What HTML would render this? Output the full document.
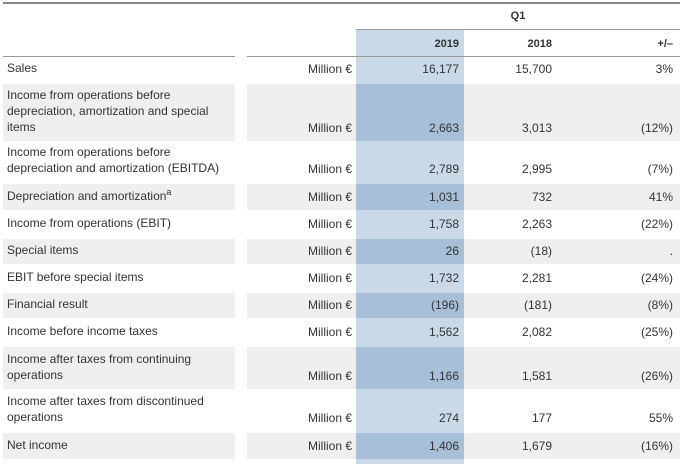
<!DOCTYPE html>
<html><head><meta charset="utf-8"><style>
body{margin:0;width:683px;height:464px;background:#fff;font-family:"Liberation Sans",sans-serif;font-size:12px;color:#333;position:relative;overflow:hidden}
div{position:absolute;box-sizing:border-box}
.l{left:3px;width:232px;padding:0 4px 6px;display:flex;align-items:flex-end;line-height:16px}
.u{left:247px;width:109px;text-align:right;padding:0 4px 6px 0;display:flex;align-items:flex-end;justify-content:flex-end}
.a{left:356px;width:108px;padding:0 5px 6px 0;display:flex;align-items:flex-end;justify-content:flex-end}
.b{left:464px;width:108px;padding:0 20px 6px 0;display:flex;align-items:flex-end;justify-content:flex-end}
.c{left:572px;width:108px;padding:0 7px 6px 0;display:flex;align-items:flex-end;justify-content:flex-end}
.g{background:#efefef}
.g.a{background:#a7bfd8}
.a{background:#c9d9e8}
.h{font-weight:bold;font-size:11px}
</style></head><body>
<div style="left:3px;top:2px;width:677px;height:2px;background:#888"></div>
<div style="left:356px;top:29px;width:324px;height:1px;background:#999"></div>
<div style="left:3px;top:56px;width:232px;height:1px;background:#999"></div>
<div style="left:247px;top:56px;width:433px;height:1px;background:#999"></div>
<div class="h" style="left:356px;width:324px;top:10px;text-align:center">Q1</div>
<div class="a h" style="top:30px;height:26px;padding-bottom:6px">2019</div>
<div class="b h" style="top:30px;height:26px;padding-bottom:6px">2018</div>
<div class="c h" style="top:30px;height:26px;padding-bottom:6px">+/–</div>
<div class="a" style="top:57px;height:407px;padding:0"></div>

<div class="l" style="top:57px;height:25px">Sales</div><div class="u" style="top:57px;height:25px">Million €</div><div class="a" style="top:57px;height:25px">16,177</div><div class="b" style="top:57px;height:25px">15,700</div><div class="c" style="top:57px;height:25px">3%</div>

<div class="l g" style="top:84px;height:57px">Income from operations before depreciation, amortization and special items</div><div class="u g" style="top:84px;height:57px">Million €</div><div class="a g" style="top:84px;height:57px">2,663</div><div class="b g" style="top:84px;height:57px">3,013</div><div class="c g" style="top:84px;height:57px">(12%)</div>

<div class="l" style="top:143px;height:39px">Income from operations before depreciation and amortization (EBITDA)</div><div class="u" style="top:143px;height:39px">Million €</div><div class="a" style="top:143px;height:39px">2,789</div><div class="b" style="top:143px;height:39px">2,995</div><div class="c" style="top:143px;height:39px">(7%)</div>

<div class="l g" style="top:184px;height:26px"><span>Depreciation and amortization<span style="font-size:9px;vertical-align:5px">a</span></span></div><div class="u g" style="top:184px;height:26px">Million €</div><div class="a g" style="top:184px;height:26px">1,031</div><div class="b g" style="top:184px;height:26px">732</div><div class="c g" style="top:184px;height:26px">41%</div>

<div class="l" style="top:212px;height:25px">Income from operations (EBIT)</div><div class="u" style="top:212px;height:25px">Million €</div><div class="a" style="top:212px;height:25px">1,758</div><div class="b" style="top:212px;height:25px">2,263</div><div class="c" style="top:212px;height:25px">(22%)</div>

<div class="l g" style="top:239px;height:25px">Special items</div><div class="u g" style="top:239px;height:25px">Million €</div><div class="a g" style="top:239px;height:25px">26</div><div class="b g" style="top:239px;height:25px">(18)</div><div class="c g" style="top:239px;height:25px">.</div>

<div class="l" style="top:266px;height:25px">EBIT before special items</div><div class="u" style="top:266px;height:25px">Million €</div><div class="a" style="top:266px;height:25px">1,732</div><div class="b" style="top:266px;height:25px">2,281</div><div class="c" style="top:266px;height:25px">(24%)</div>

<div class="l g" style="top:293px;height:25px">Financial result</div><div class="u g" style="top:293px;height:25px">Million €</div><div class="a g" style="top:293px;height:25px">(196)</div><div class="b g" style="top:293px;height:25px">(181)</div><div class="c g" style="top:293px;height:25px">(8%)</div>

<div class="l" style="top:320px;height:25px">Income before income taxes</div><div class="u" style="top:320px;height:25px">Million €</div><div class="a" style="top:320px;height:25px">1,562</div><div class="b" style="top:320px;height:25px">2,082</div><div class="c" style="top:320px;height:25px">(25%)</div>

<div class="l g" style="top:347px;height:42px">Income after taxes from continuing operations</div><div class="u g" style="top:347px;height:42px">Million €</div><div class="a g" style="top:347px;height:42px">1,166</div><div class="b g" style="top:347px;height:42px">1,581</div><div class="c g" style="top:347px;height:42px">(26%)</div>

<div class="l" style="top:391px;height:40px">Income after taxes from discontinued operations</div><div class="u" style="top:391px;height:40px">Million €</div><div class="a" style="top:391px;height:40px">274</div><div class="b" style="top:391px;height:40px">177</div><div class="c" style="top:391px;height:40px">55%</div>

<div class="l g" style="top:433px;height:26px">Net income</div><div class="u g" style="top:433px;height:26px">Million €</div><div class="a g" style="top:433px;height:26px">1,406</div><div class="b g" style="top:433px;height:26px">1,679</div><div class="c g" style="top:433px;height:26px">(16%)</div>
</body></html>
